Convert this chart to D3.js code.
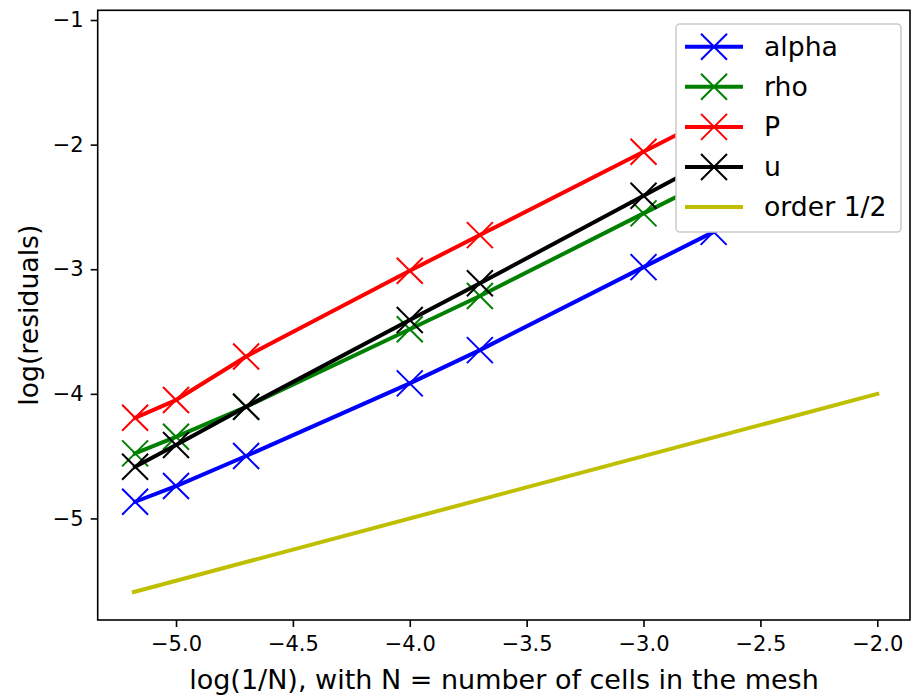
<!DOCTYPE html>
<html><head><meta charset="utf-8">
<script src="https://cdn.jsdelivr.net/npm/d3@7"></script>
<style>html,body{margin:0;padding:0;background:#fff;}svg{display:block;}text{font-family:"DejaVu Sans",sans-serif;}</style>
</head><body>
<svg id="chart" width="911" height="695"></svg>
<script>
// Data
const xVals = [-5.175, -5.0, -4.70, -4.0, -3.70, -3.0, -2.70, -2.0];
const alpha = [-4.866, -4.740, -4.499, -3.916, -3.649, -2.983, -2.70, -2.04];
const rho   = [-4.478, -4.345, -4.104, -3.482, -3.215, -2.552, -2.27, -1.61];
const P     = [-4.192, -4.050, -3.700, -3.012, -2.726, -2.057, -1.77, -1.143];
const u     = [-4.585, -4.411, -4.104, -3.408, -3.113, -2.410, -2.11, -1.41];
const orderX = [-5.18, -2.0];
const orderY = [-5.59, -4.0];
const xTicks = [-5.0, -4.5, -4.0, -3.5, -3.0, -2.5, -2.0];
const yTicks = [-5, -4, -3, -2, -1];
const seriesNames = ["alpha", "rho", "P", "u"];
const seriesColors = ["#0000ff", "#008000", "#ff0000", "#000000"];
const orderName = "order 1/2";
const orderColor = "#bfbf00";

const svg = d3.select("#chart");
const L = 97.7, R = 910, T = 10.3, B = 620;
const x = d3.scaleLinear().domain([-5.335, -1.86]).range([L, R]);
const y = d3.scaleLinear().domain([-5.815, -0.922]).range([B, T]);

svg.append("defs").append("clipPath").attr("id","clip")
  .append("rect").attr("x",L).attr("y",T).attr("width",R-L).attr("height",B-T);

const plot = svg.append("g").attr("clip-path","url(#clip)");
const line = d3.line().x(d=>x(d[0])).y(d=>y(d[1]));
const allSeries = [alpha, rho, P, u];
const ms = 13;
const lw = 4;
function xMarker(g, cx, cy, color) {
  g.append("path")
    .attr("d", `M${cx-ms},${cy-ms}L${cx+ms},${cy+ms}M${cx-ms},${cy+ms}L${cx+ms},${cy-ms}`)
    .attr("stroke", color).attr("stroke-width", 2).attr("fill","none");
}
allSeries.forEach((s,i)=>{
  const pts = xVals.map((xv,j)=>[xv, s[j]]);
  plot.append("path").attr("d", line(pts)).attr("fill","none")
    .attr("stroke", seriesColors[i]).attr("stroke-width", lw).attr("stroke-linejoin","round").attr("stroke-linecap","square");
  pts.forEach(p=>xMarker(plot, x(p[0]), y(p[1]), seriesColors[i]));
});
plot.append("path").attr("d", line(orderX.map((xv,j)=>[xv, orderY[j]])))
  .attr("fill","none").attr("stroke", orderColor).attr("stroke-width", lw).attr("stroke-linecap","square");

// Axes
const xAxis = d3.axisBottom(x).tickValues(xTicks).tickFormat(d=>d3.format(".1f")(d).replace("-","\u2212")).tickSize(7).tickPadding(9);
const yAxis = d3.axisLeft(y).tickValues(yTicks).tickFormat(d=>String(d).replace("-","\u2212")).tickSize(7).tickPadding(7);
const gx = svg.append("g").attr("transform",`translate(0,${B})`).call(xAxis);
const gy = svg.append("g").attr("transform",`translate(${L},0)`).call(yAxis);
[gx, gy].forEach(g=>{
  g.select(".domain").remove();
  g.selectAll(".tick line").attr("stroke","#000").attr("stroke-width",1.6);
  g.selectAll(".tick text").attr("font-size",21).attr("fill","#000").attr("font-family","DejaVu Sans");
});
svg.append("rect").attr("x",L).attr("y",T).attr("width",R-L).attr("height",B-T)
  .attr("fill","none").attr("stroke","#000").attr("stroke-width",1.6);

svg.append("text").attr("x", 504).attr("y", 689).attr("text-anchor","middle")
  .attr("font-size",27).text("log(1/N), with N = number of cells in the mesh");
svg.append("text").attr("transform",`translate(38,${(T+B)/2}) rotate(-90)`).attr("text-anchor","middle")
  .attr("font-size",26.7).text("log(residuals)");

// Legend
const lg = svg.append("g");
lg.append("rect").attr("x",676).attr("y",24).attr("width",225).attr("height",208).attr("rx",4)
  .attr("fill","#fff").attr("stroke","#cccccc").attr("stroke-width",1.6);
const names = seriesNames.concat([orderName]);
const colors = seriesColors.concat([orderColor]);
names.forEach((n,i)=>{
  const cy = 46.7 + i*40.1;
  lg.append("line").attr("x1",685).attr("x2",743).attr("y1",cy).attr("y2",cy)
    .attr("stroke",colors[i]).attr("stroke-width",lw);
  if (i < 4) xMarker(lg, 714, cy, colors[i]);
  lg.append("text").attr("x",764).attr("y",cy).attr("dy","0.35em").attr("font-size",26.7).text(n);
});
</script>
</body></html>
